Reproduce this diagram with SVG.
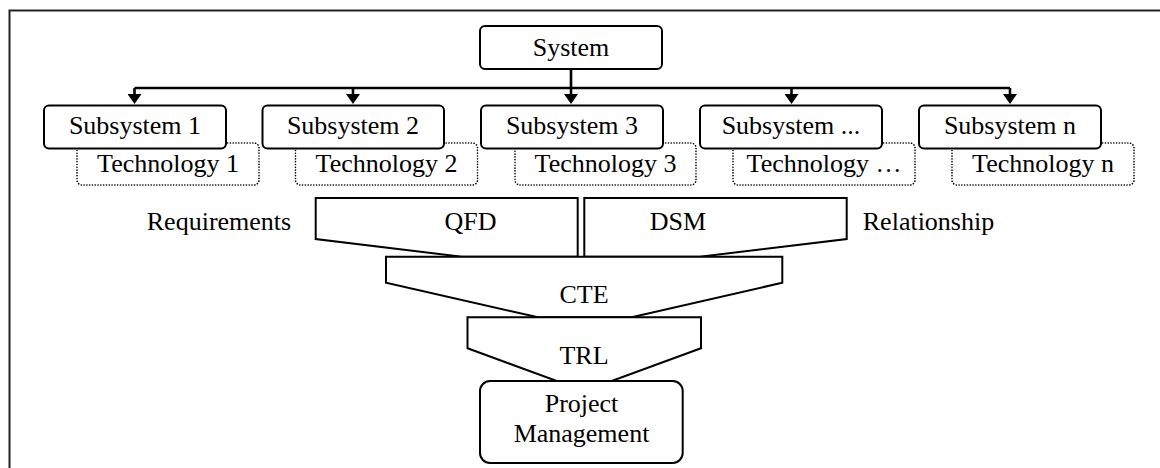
<svg xmlns="http://www.w3.org/2000/svg" width="1160" height="468" viewBox="0 0 1160 468">
<defs>
<style>
text{font-family:"Liberation Serif","Times New Roman",serif;font-size:26px;fill:#000;text-anchor:middle}
.box{fill:#fff;stroke:#000;stroke-width:2}
.tech{fill:#fff;stroke:#000;stroke-width:1.6;stroke-dasharray:0.1 2.7;stroke-linecap:round}
.fun{fill:#fff;stroke:#000;stroke-width:2;stroke-linejoin:miter}
.conn{fill:none;stroke:#000;stroke-width:2.6}
</style>
<marker id="ah" viewBox="0 0 10 14" refX="0" refY="7" markerWidth="10" markerHeight="14" markerUnits="userSpaceOnUse" orient="auto">
<path d="M0,0 L10,7 L0,14 Z" fill="#000"/>
</marker>
</defs>
<rect x="0" y="0" width="1160" height="468" fill="#fff"/>
<path d="M9.5,468 V10.5 H1160" fill="none" stroke="#222" stroke-width="2"/>

<g id="connectors">
<path class="conn" d="M571,69 V88"/>
<path class="conn" d="M134.5,88 H1010"/>
<line class="conn" x1="134.5" y1="88" x2="134.5" y2="94" marker-end="url(#ah)"/>
<line class="conn" x1="353" y1="88" x2="353" y2="94" marker-end="url(#ah)"/>
<line class="conn" x1="571" y1="88" x2="571" y2="94" marker-end="url(#ah)"/>
<line class="conn" x1="791.5" y1="88" x2="791.5" y2="94" marker-end="url(#ah)"/>
<line class="conn" x1="1010" y1="88" x2="1010" y2="94" marker-end="url(#ah)"/>
</g>

<g id="system">
<rect class="box" x="480" y="26" width="182" height="43" rx="5"/>
<text x="571" y="56">System</text>
</g>

<g id="tech1"><rect class="tech" x="77" y="143" width="182" height="42" rx="5"/><text x="168" y="172">Technology 1</text></g>
<g id="tech2"><rect class="tech" x="295.5" y="143" width="182" height="42" rx="5"/><text x="386.5" y="172">Technology 2</text></g>
<g id="tech3"><rect class="tech" x="515" y="143" width="181" height="42" rx="5"/><text x="605.5" y="172">Technology 3</text></g>
<g id="tech4"><rect class="tech" x="733" y="143" width="182" height="42" rx="5"/><text x="824" y="172">Technology …</text></g>
<g id="techn"><rect class="tech" x="952" y="143" width="182" height="42" rx="5"/><text x="1043" y="172">Technology n</text></g>

<g id="sub1"><rect class="box" x="44" y="105.5" width="182" height="43" rx="5"/><text x="135" y="134">Subsystem 1</text></g>
<g id="sub2"><rect class="box" x="262.5" y="105.5" width="181.5" height="43" rx="5"/><text x="353" y="134">Subsystem 2</text></g>
<g id="sub3"><rect class="box" x="481" y="105.5" width="182" height="43" rx="5"/><text x="572" y="134">Subsystem 3</text></g>
<g id="sub4"><rect class="box" x="700" y="105.5" width="182" height="43" rx="5"/><text x="791" y="134">Subsystem ...</text></g>
<g id="subn"><rect class="box" x="919" y="105.5" width="182" height="43" rx="5"/><text x="1010" y="134">Subsystem n</text></g>

<g id="qfd">
<polygon class="fun" points="315.7,198 577.7,198 577.7,256.7 461.7,256.7 315.7,239"/>
<text x="470.5" y="230">QFD</text>
</g>
<g id="dsm">
<polygon class="fun" points="584.3,198 846.7,198 846.7,239 700,256.7 584.3,256.7"/>
<text x="678" y="230">DSM</text>
</g>
<text id="requirements" x="219" y="230">Requirements</text>
<text id="relationship" x="928.5" y="230">Relationship</text>

<g id="cte">
<polygon class="fun" points="386,256.7 782.3,256.7 782.3,282.7 631.7,317.3 538,317.3 386,282.7"/>
<text x="584" y="303">CTE</text>
</g>
<g id="trl">
<polygon class="fun" points="467.5,317.3 701,317.3 701,348.3 611.7,381 556.7,381 467.5,348.3"/>
<text x="584" y="364">TRL</text>
</g>
<g id="pm">
<rect class="box" x="480" y="381" width="202.7" height="82" rx="10"/>
<text x="581.5" y="412">Project</text>
<text x="581.5" y="442">Management</text>
</g>
</svg>
